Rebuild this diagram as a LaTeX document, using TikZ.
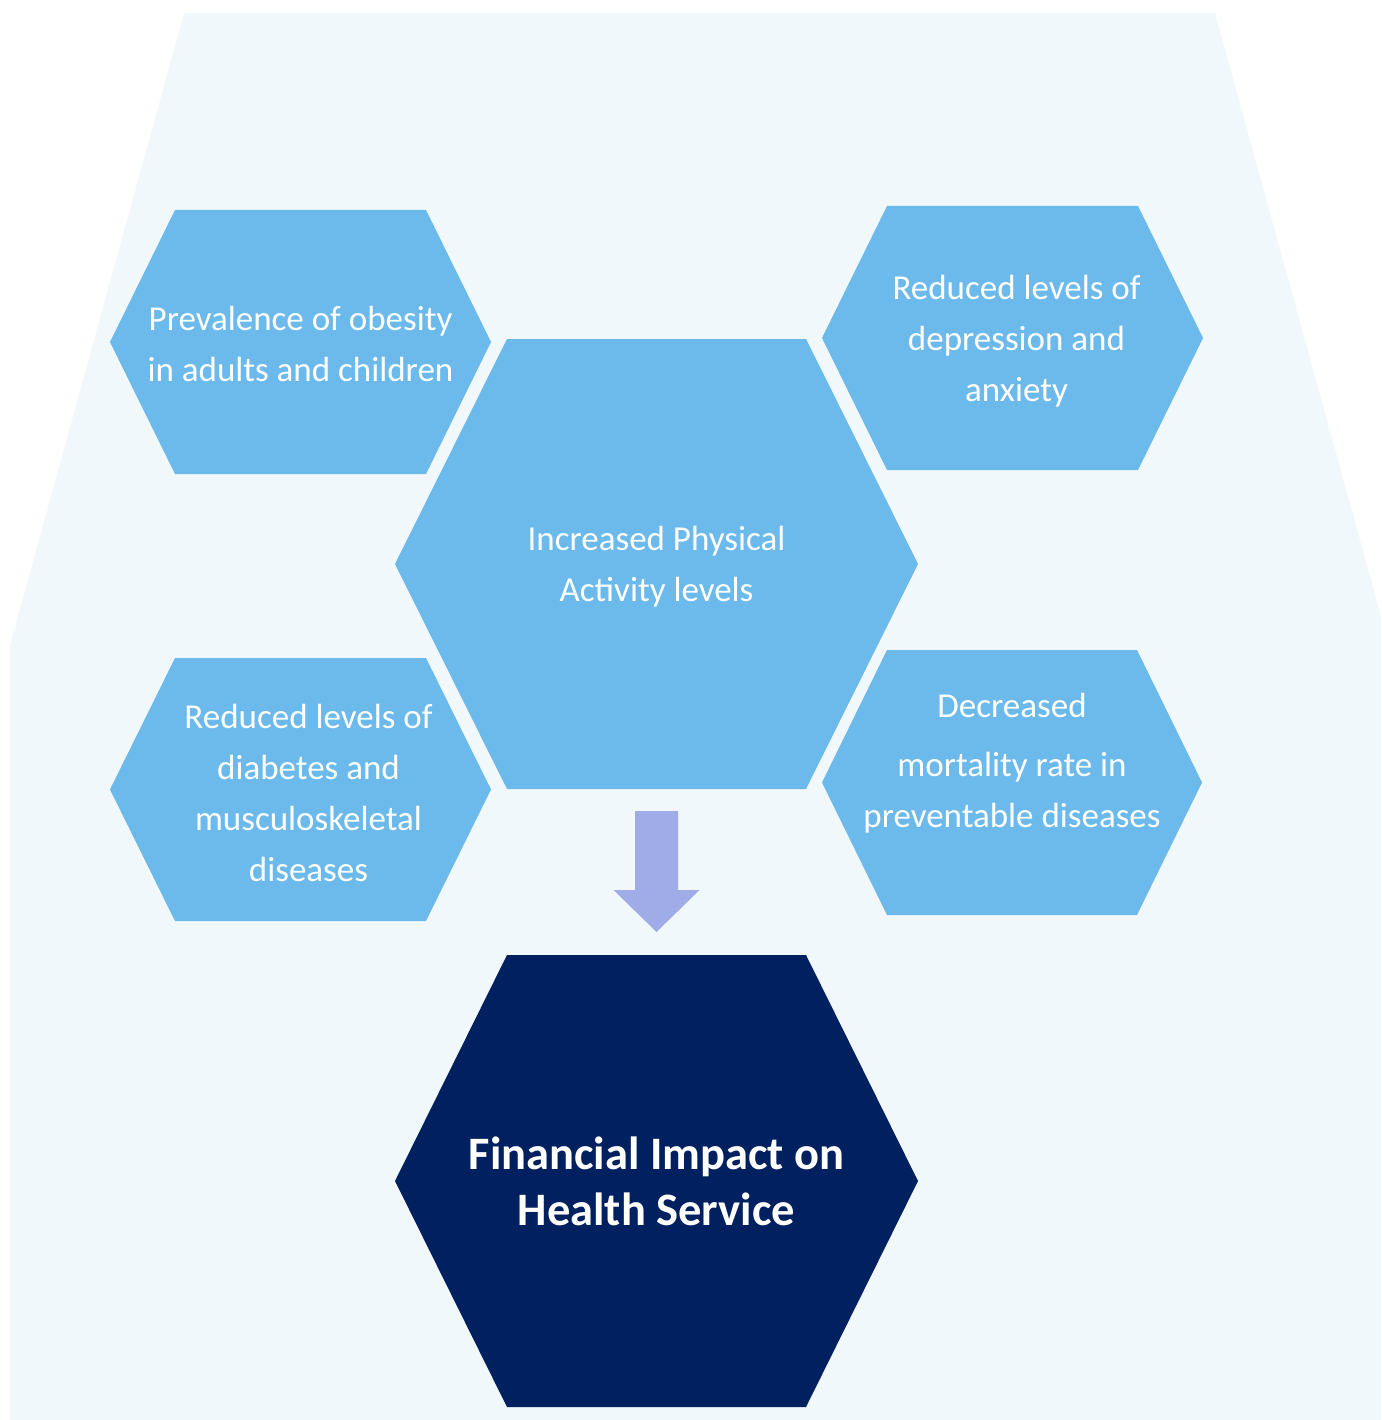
\documentclass[tikz,border=0pt]{standalone}
\usepackage{fontspec}
\setmainfont{Carlito}
\definecolor{bgc}{RGB}{241,248,252}
\definecolor{hexc}{RGB}{108,185,236}
\definecolor{darkc}{RGB}{0,32,96}
\definecolor{arrc}{RGB}{160,172,232}
% #1 center, #2 half width, #3 half height, #4 inset, #5 colour
\newcommand{\hexshape}[5]{%
  \fill[#5] ($(#1)+(-#2+#4,#3)$) -- ($(#1)+(#2-#4,#3)$) -- ($(#1)+(#2,0)$)
    -- ($(#1)+(#2-#4,-#3)$) -- ($(#1)+(-#2+#4,-#3)$) -- ($(#1)+(-#2,0)$) -- cycle;}
\usetikzlibrary{calc}
\tikzset{
  lbl/.style={text=white, align=center, font=\fontsize{35}{51}\selectfont, inner sep=0pt},
  biglbl/.style={text=white, align=center, font=\fontsize{46.5}{56}\selectfont\bfseries, inner sep=0pt}
}
\begin{document}
\begin{tikzpicture}[x=1pt,y=-1pt]
\useasboundingbox (0,0) rectangle (1381,1420);
% background shape
\fill[bgc] (184,13) -- (1215,13) -- (1381,616) -- (1381,1420) -- (10,1420) -- (10,645) -- cycle;
% hexagon centres
\coordinate (c1) at (300.5,342);
\coordinate (c2) at (1012.5,338);
\coordinate (c3) at (656.5,564);
\coordinate (c4) at (300.5,789.5);
\coordinate (c5) at (1012,782.5);
\coordinate (c6) at (656.5,1181);
\hexshape{c1}{190.5}{132}{65}{hexc}
\hexshape{c2}{190.5}{132}{65}{hexc}
\hexshape{c3}{261.5}{225}{112}{hexc}
\hexshape{c4}{190.5}{131.5}{65}{hexc}
\hexshape{c5}{190}{132.5}{65}{hexc}
\hexshape{c6}{261.5}{226}{112}{darkc}
% labels
\node[lbl] (obesity) at ($(c1)+(0,2)$) {Prevalence of obesity\\in adults and children};
\node[lbl] (depr) at ($(c2)+(4,3)$) {Reduced levels of\\depression and\\anxiety};
\node[lbl] (pa) at ($(c3)+(0,3)$) {Increased Physical\\Activity levels};
\node[lbl] (diab) at ($(c4)+(8,3)$) {Reduced levels of\\diabetes and\\musculoskeletal\\diseases};
\node[lbl] (mort) at ($(c5)+(0,-77)$) {Decreased};
\node[lbl] (mort2) at ($(c5)+(0,10)$) {mortality rate in\\preventable diseases};
\node[biglbl] (fin) at ($(c6)+(0,0)$) {Financial Impact on\\Health Service};
% arrow
\coordinate (a0) at (656.5,811);
\fill[arrc] ($(a0)+(-21.5,0)$) -- ($(a0)+(21.5,0)$) -- ($(a0)+(21.5,79)$) -- ($(a0)+(43,79)$)
  -- ($(a0)+(0,121)$) -- ($(a0)+(-43,79)$) -- ($(a0)+(-21.5,79)$) -- cycle;
\end{tikzpicture}
\end{document}
